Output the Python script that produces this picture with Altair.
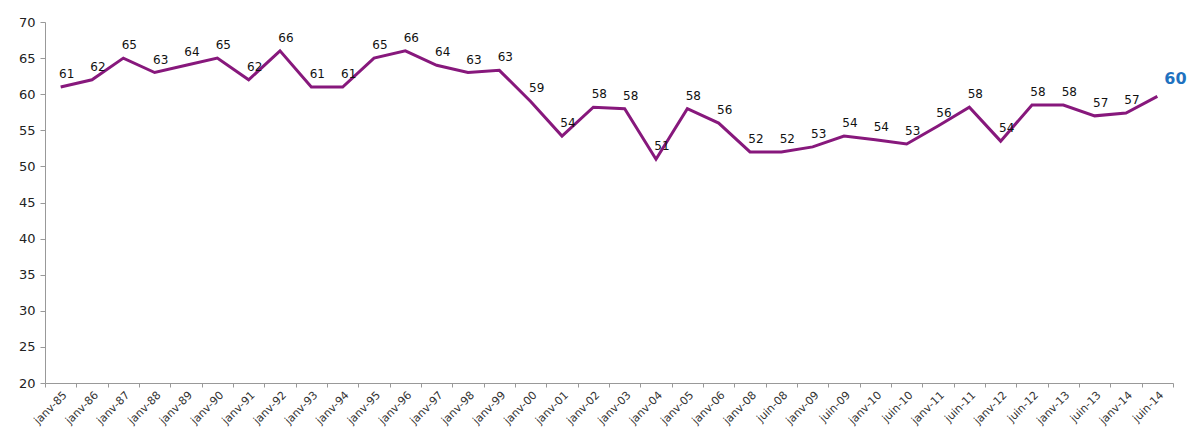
import altair as alt
import pandas as pd

categories = [
    "janv-85", "janv-86", "janv-87", "janv-88", "janv-89", "janv-90", "janv-91",
    "janv-92", "janv-93", "janv-94", "janv-95", "janv-96", "janv-97", "janv-98",
    "janv-99", "janv-00", "janv-01", "janv-02", "janv-03", "janv-04", "janv-05",
    "janv-06", "janv-08", "juin-08", "janv-09", "juin-09", "janv-10", "juin-10",
    "janv-11", "juin-11", "janv-12", "juin-12", "janv-13", "juin-13", "janv-14",
    "juin-14",
]
values = [
    61, 62, 65, 63, 64, 65, 62, 66, 61, 61, 65, 66, 64, 63, 63.3, 59, 54.2, 58.2,
    58, 51, 58, 56, 52, 52, 52.7, 54.2, 53.7, 53.1, 55.6, 58.2, 53.5, 58.5, 58.5,
    57, 57.4, 59.7,
]
labels = [
    61, 62, 65, 63, 64, 65, 62, 66, 61, 61, 65, 66, 64, 63, 63, 59, 54, 58,
    58, 51, 58, 56, 52, 52, 53, 54, 54, 53, 56, 58, 54, 58, 58, 57, 57, 60,
]

df = pd.DataFrame({
    "cat": categories,
    "val": values,
    "lab": [str(v) for v in labels],
    "idx": list(range(len(categories))),
})
last_idx = len(categories) - 1

FONT = "DejaVu Sans"

x_enc = alt.X(
    "cat:N",
    sort=categories,
    bandPosition=0.5,
    scale=alt.Scale(type="band", paddingInner=0, paddingOuter=0),
    axis=alt.Axis(
        title=None, labelAngle=-45, labelFontSize=11, labelColor="#333333",
        labelFont=FONT, tickBand="extent", tickSize=4, tickColor="#999999",
        domainColor="#999999", labelPadding=2,
    ),
)
y_enc = alt.Y(
    "val:Q",
    scale=alt.Scale(domain=[20, 70], nice=False, zero=False),
    axis=alt.Axis(
        title=None, values=list(range(20, 71, 5)), grid=False, labelFontSize=13,
        labelColor="#222222", labelFont=FONT, tickSize=5, tickColor="#999999",
        domainColor="#999999", labelPadding=5,
    ),
)

base = alt.Chart(df)

line = base.mark_line(color="#87187c", strokeWidth=3, strokeJoin="miter").encode(
    x=x_enc, y=y_enc
)

text = base.transform_filter(alt.datum.idx < last_idx).mark_text(
    font=FONT, fontSize=12, color="#111111", dx=6, dy=-13
).encode(x=x_enc, y=y_enc, text="lab:N")

last_text = base.transform_filter(alt.datum.idx == last_idx).mark_text(
    font=FONT, fontSize=16, fontWeight="bold", color="#1f72c0",
    dx=7, dy=-17, align="left",
).encode(x=x_enc, y=y_enc, text="lab:N")

chart = (
    alt.layer(line, text, last_text)
    .properties(
        width=1128, height=361,
        autosize=alt.AutoSizeParams(type="none"),
        padding={"left": 37, "top": 14, "right": 16, "bottom": 57},
    )
    .configure_view(stroke=None)
)

chart.save("out.html", embed_options={"renderer": "svg", "actions": False})
